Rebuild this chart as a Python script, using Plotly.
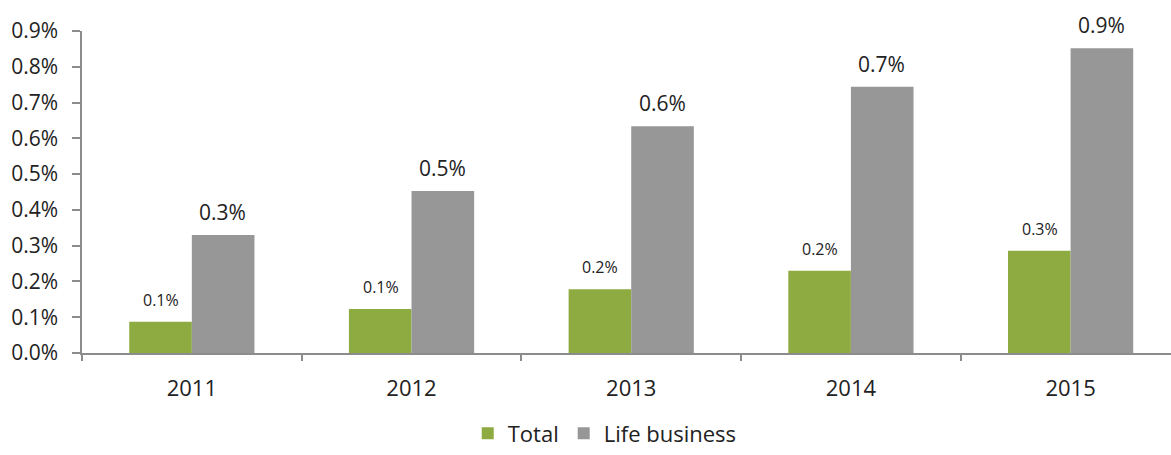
import plotly.graph_objects as go

years = ["2011", "2012", "2013", "2014", "2015"]
total = [0.087, 0.123, 0.178, 0.230, 0.286]          # percent
life_business = [0.330, 0.453, 0.634, 0.744, 0.852]   # percent
y_ticks = [0.0, 0.1, 0.2, 0.3, 0.4, 0.5, 0.6, 0.7, 0.8, 0.9]

GREEN = "#8eab41"
GREY = "#979797"
FONT = "Open Sans"

fig = go.Figure()
fig.add_trace(go.Bar(name="Total", x=years, y=total, marker_color=GREEN,
                     marker_line_width=0))
fig.add_trace(go.Bar(name="Life business", x=years, y=life_business,
                     marker_color=GREY, marker_line_width=0))

annotations = []
for i, v in enumerate(total):
    annotations.append(dict(x=i, y=v, xref="x", yref="y", text=f"{v:.1f}%",
                            showarrow=False, xshift=-31, yshift=22,
                            yanchor="middle",
                            font=dict(family=FONT, size=16, color="#222")))
for i, v in enumerate(life_business):
    annotations.append(dict(x=i, y=v, xref="x", yref="y", text=f"{v:.1f}%",
                            showarrow=False, xshift=31, yshift=23,
                            yanchor="middle",
                            font=dict(family=FONT, size=21, color="#222")))

fig.update_layout(
    width=1171, height=455,
    margin=dict(l=82, r=0, t=31, b=95),
    paper_bgcolor="white", plot_bgcolor="white",
    barmode="group", bargap=0.43, bargroupgap=0,
    font=dict(family=FONT, size=21, color="#222"),
    showlegend=True,
    legend=dict(orientation="h", x=0.48, xanchor="center", y=-0.25,
                yanchor="middle", font=dict(family=FONT, size=22, color="#222"),
                itemwidth=30),
    annotations=annotations,
    xaxis=dict(type="category", range=[-0.5, 4.457], showgrid=False,
               showline=True, linecolor="#8c8c8c", linewidth=1.5,
               ticks="outside", tickson="boundaries", ticklen=6,
               tickcolor="#8c8c8c", tickwidth=1.5, ticklabelstandoff=15,
               tickfont=dict(family=FONT, size=22, color="#222")),
    yaxis=dict(range=[0, 0.9], tickvals=y_ticks,
               ticktext=[f"{t:.1f}%" for t in y_ticks], showgrid=False,
               zeroline=False, showline=True, linecolor="#8c8c8c", linewidth=1.5,
               ticks="outside", ticklen=8, tickcolor="#8c8c8c", tickwidth=1.5,
               ticklabelstandoff=10,
               tickfont=dict(family=FONT, size=21, color="#222")),
)

fig.write_html("out.html", config={"displayModeBar": False},
               post_script="document.body.style.margin='0';")
